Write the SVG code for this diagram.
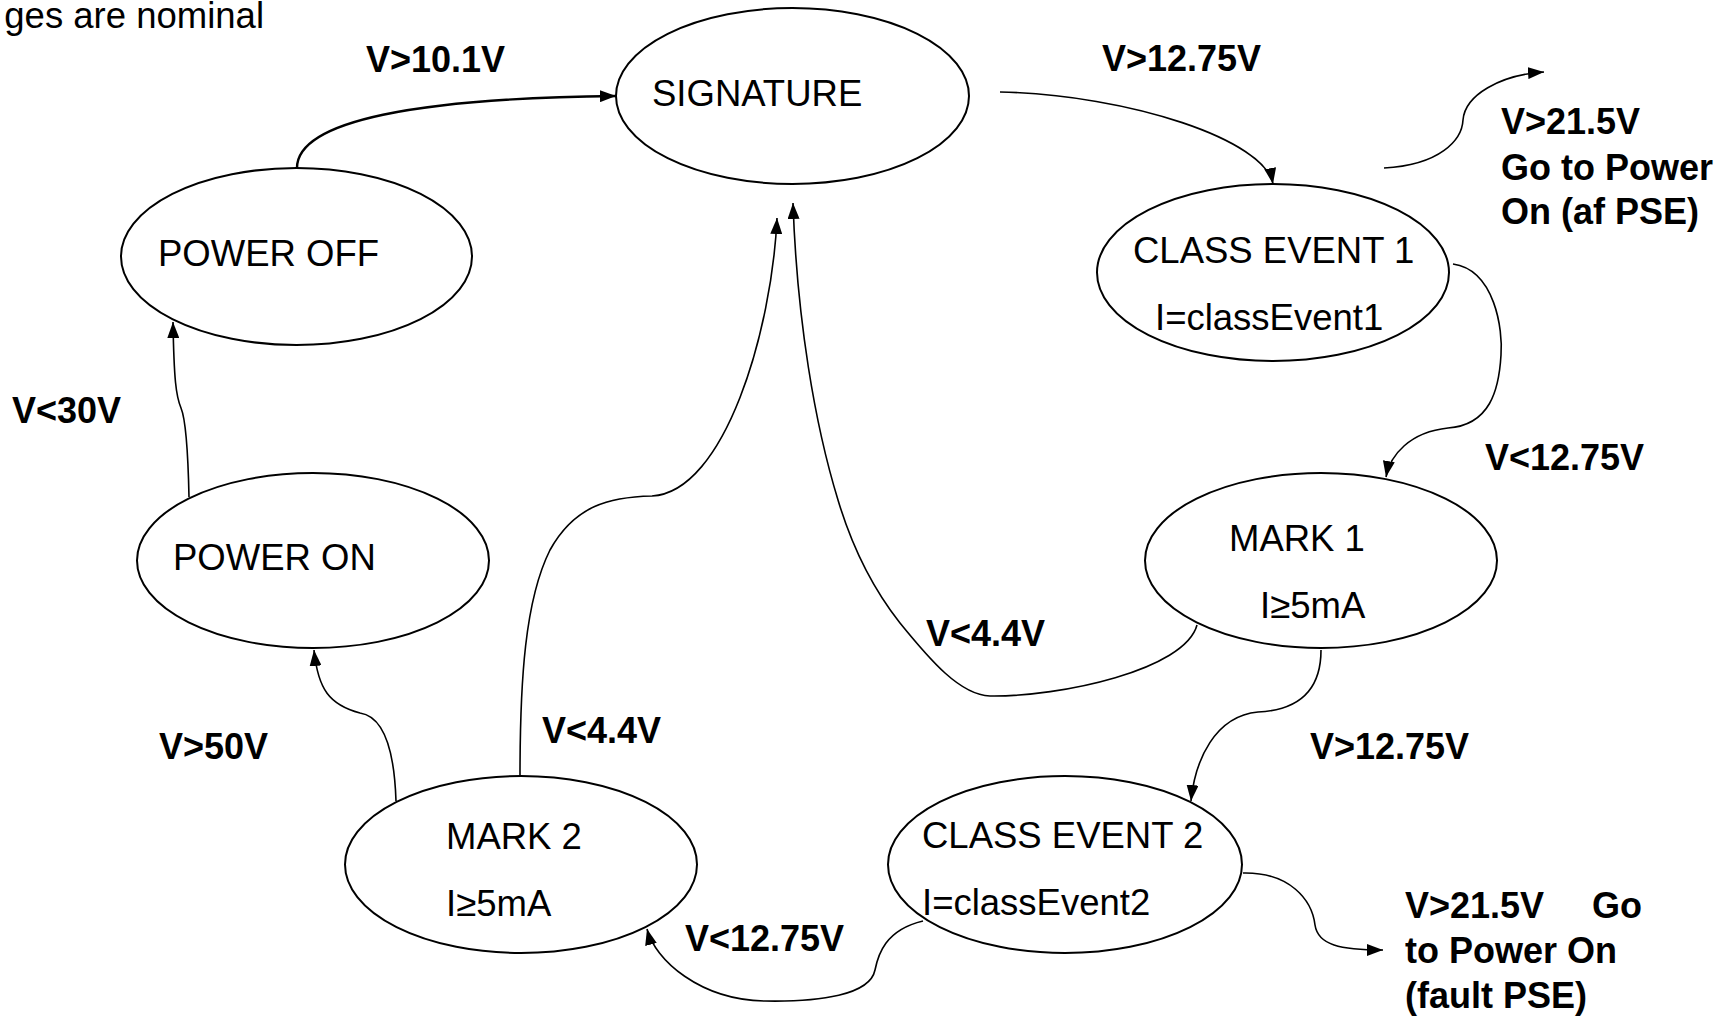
<svg xmlns="http://www.w3.org/2000/svg" width="1726" height="1016" viewBox="0 0 1726 1016">
<style>
.bg{fill:#fff}
.node{fill:#fff;stroke:#000;stroke-width:2}
.t{font-family:"Liberation Sans",Arial,sans-serif;font-size:36.5px;fill:#000}
.l{font-family:"Liberation Sans",Arial,sans-serif;font-size:36px;font-weight:bold;fill:#000}
.c{fill:none;stroke:#000;stroke-width:1.6;marker-end:url(#ah)}
.c2{fill:none;stroke:#000;stroke-width:2.4;marker-end:url(#ah)}
</style>
<defs>
<marker id="ah" markerUnits="userSpaceOnUse" markerWidth="17" markerHeight="12" refX="16" refY="6" orient="auto">
<path d="M0,0 L16,6 L0,12 z" fill="#000"/>
</marker>
</defs>
<rect class="bg" x="0" y="0" width="1726" height="1016"/>
<text class="t" x="264" y="28" text-anchor="end">ges are nominal</text>

<g id="connectors">
<path class="c2" d="M297,168 C297,120 420,98 616,96"/>
<path class="c" d="M1000,92 C1130,95 1265,140 1273,184"/>
<path class="c" d="M1384,168 C1440,165 1462,140 1463,120 C1465,95 1500,75 1544,72"/>
<path class="c" d="M1453,264 C1495,270 1503,330 1501,355 C1499,390 1490,425 1448,428 C1410,432 1390,455 1386,477"/>
<path class="c" d="M1197,625 C1185,670 1060,697 990,696 C960,695 930,660 900,623 C870,585 850,540 838,500 C815,425 797,320 793,203"/>
<path class="c" d="M520,776 C520,680 525,600 550,550 C575,505 610,497 652,496 C725,492 772,330 777,218"/>
<path class="c" d="M396,801 C394,740 380,716 360,713 C330,705 318,690 314,650"/>
<path class="c" d="M189,497 C188,450 186,420 181,408 C176,396 174,380 173,322"/>
<path class="c" d="M923,921 C885,930 878,955 875,970 C870,995 820,1002 765,1001 C700,1000 655,960 647,929"/>
<path class="c" d="M1321,650 C1321,690 1300,710 1258,712 C1215,716 1195,760 1191,801"/>
<path class="c" d="M1243,873 C1290,872 1312,900 1315,925 C1318,945 1340,950 1383,950"/>
</g>

<g id="signature">
<ellipse class="node" cx="792.5" cy="96" rx="176.5" ry="88"/>
<text class="t" x="652" y="106">SIGNATURE</text>
</g>
<g id="power-off">
<ellipse class="node" cx="296.5" cy="256.5" rx="175.5" ry="88.5"/>
<text class="t" x="158" y="266">POWER OFF</text>
</g>
<g id="power-on">
<ellipse class="node" cx="313" cy="560.5" rx="176" ry="87.5"/>
<text class="t" x="173" y="570">POWER ON</text>
</g>
<g id="class-event-1">
<ellipse class="node" cx="1273" cy="272.5" rx="176" ry="88.5"/>
<text class="t" x="1133" y="263">CLASS EVENT 1</text>
<text class="t" x="1155" y="330">I=classEvent1</text>
</g>
<g id="mark-1">
<ellipse class="node" cx="1321" cy="560.5" rx="176" ry="87.5"/>
<text class="t" x="1229" y="551">MARK 1</text>
<text class="t" x="1260" y="618">I≥5mA</text>
</g>
<g id="mark-2">
<ellipse class="node" cx="521" cy="864.5" rx="176" ry="88.5"/>
<text class="t" x="446" y="849">MARK 2</text>
<text class="t" x="446" y="916">I≥5mA</text>
</g>
<g id="class-event-2">
<ellipse class="node" cx="1065" cy="864.5" rx="177" ry="88.5"/>
<text class="t" x="922" y="848">CLASS EVENT 2</text>
<text class="t" x="922" y="915">I=classEvent2</text>
</g>

<g id="labels">
<text class="l" x="366" y="72">V&gt;10.1V</text>
<text class="l" x="1102" y="71">V&gt;12.75V</text>
<text class="l"><tspan x="1501" y="134">V&gt;21.5V</tspan><tspan x="1501" y="180">Go to Power</tspan><tspan x="1501" y="224">On (af PSE)</tspan></text>
<text class="l" x="12" y="423">V&lt;30V</text>
<text class="l" x="1485" y="470">V&lt;12.75V</text>
<text class="l" x="926" y="646">V&lt;4.4V</text>
<text class="l" x="1310" y="759">V&gt;12.75V</text>
<text class="l" x="159" y="759">V&gt;50V</text>
<text class="l" x="542" y="743">V&lt;4.4V</text>
<text class="l" x="685" y="951">V&lt;12.75V</text>
<text class="l"><tspan x="1405" y="918">V&gt;21.5V</tspan><tspan x="1592" y="918">Go</tspan><tspan x="1405" y="963">to Power On</tspan><tspan x="1405" y="1008">(fault PSE)</tspan></text>
</g>
</svg>
